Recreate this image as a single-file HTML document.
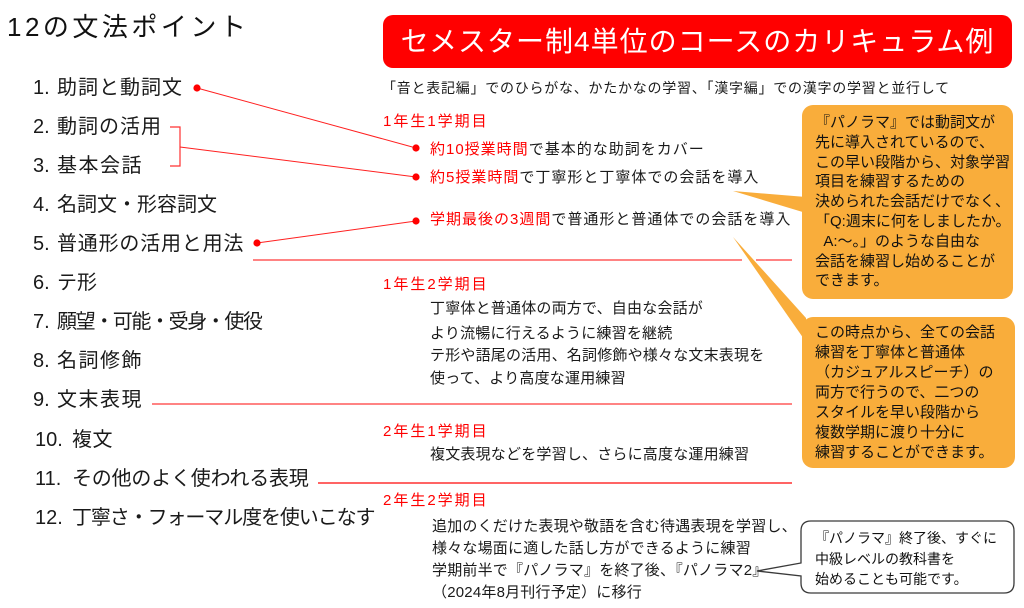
<!DOCTYPE html>
<html lang="ja">
<head>
<meta charset="utf-8">
<style>
  html, body { margin:0; padding:0; }
  body { width:1024px; height:608px; position:relative; overflow:hidden; background:#fff;
         font-family:"Liberation Sans","Noto Sans CJK JP",sans-serif; color:#1a1a1a; }
  .a { position:absolute; white-space:nowrap; }
  .title { left:7px; top:12px; font-size:26px; line-height:30px; letter-spacing:3.5px; color:#111; }
  .redbox { left:383px; top:15px; width:629px; height:53px; background:#ff0000; border-radius:10px;
            color:#fff; font-size:28px; line-height:53px; text-align:center; letter-spacing:1px; }
  .it { left:33px; font-size:20px; line-height:24px; letter-spacing:1px; }
  .it .n { display:inline-block; width:24px; letter-spacing:0; }
  .it.w { left:35px; }
  .it.w .n { width:37px; }
  .t14 { font-size:14px; line-height:18px; letter-spacing:0.75px; }
  .lab { font-size:15px; line-height:18px; letter-spacing:2px; color:#ff0000; }
  .b1 { font-size:15px; line-height:18px; letter-spacing:1px; }
  .b2 { font-size:15px; line-height:18px; letter-spacing:0.2px; }
  .r { color:#ff0000; }
  .call { font-size:15px; line-height:19.8px; color:#111; }
  .call3 { font-size:14px; line-height:20.5px; color:#111; }
</style>
</head>
<body>

<svg width="1024" height="608" style="position:absolute;left:0;top:0">
  <!-- orange callouts -->
  <rect x="802" y="105" width="211" height="194" rx="11" ry="11" fill="#f9ad3b"/>
  <polygon points="733,191 806,197 806,213" fill="#f9ad3b"/>
  <rect x="802" y="317" width="213" height="151" rx="11" ry="11" fill="#f9ad3b"/>
  <polygon points="733,237 806,318 806,342" fill="#f9ad3b"/>

  <!-- separators -->
  <line x1="253" y1="260" x2="742" y2="260" stroke="#ff5a5a" stroke-width="1.4"/>
  <line x1="756" y1="260" x2="792" y2="260" stroke="#ff5a5a" stroke-width="1.4"/>
  <line x1="152" y1="404" x2="792" y2="404" stroke="#ff5a5a" stroke-width="1.4"/>
  <line x1="318" y1="483" x2="792" y2="483" stroke="#ff3030" stroke-width="1.4"/>

  <!-- connectors -->
  <line x1="197" y1="88" x2="416" y2="148" stroke="#ff2020" stroke-width="1"/>
  <path d="M170,127 H180 V166 H170" fill="none" stroke="#ff3030" stroke-width="1.2"/>
  <line x1="180" y1="147" x2="416" y2="177" stroke="#ff2020" stroke-width="1"/>
  <line x1="257" y1="243" x2="416" y2="221" stroke="#ff2020" stroke-width="1"/>
  <circle cx="197" cy="88" r="3.6" fill="#ff0000"/>
  <circle cx="416" cy="148" r="3.6" fill="#ff0000"/>
  <circle cx="416" cy="177" r="3.6" fill="#ff0000"/>
  <circle cx="257" cy="243" r="3.6" fill="#ff0000"/>
  <circle cx="416" cy="221" r="3.6" fill="#ff0000"/>

  <!-- white callout -->
  <path d="M811,521 H1004 Q1014,521 1014,531 V583 Q1014,593 1004,593 H811 Q801,593 801,583 V576 L757,571 L801,563 V531 Q801,521 811,521 Z"
        fill="#fff" stroke="#3a3a3a" stroke-width="1.3"/>
</svg>

<div class="a title">12の文法ポイント</div>
<div class="a redbox">セメスター制4単位のコースのカリキュラム例</div>

<!-- left list -->
<div class="a it" style="top:76px"><span class="n">1.</span>助詞と動詞文</div>
<div class="a it" style="top:115px"><span class="n">2.</span>動詞の活用</div>
<div class="a it" style="top:154px;letter-spacing:1.5px"><span class="n">3.</span>基本会話</div>
<div class="a it" style="top:193px;letter-spacing:0"><span class="n">4.</span>名詞文・形容詞文</div>
<div class="a it" style="top:232px;letter-spacing:0.8px"><span class="n">5.</span>普通形の活用と用法</div>
<div class="a it" style="top:271px;letter-spacing:0"><span class="n">6.</span>テ形</div>
<div class="a it" style="top:310px;letter-spacing:-1.4px"><span class="n">7.</span>願望・可能・受身・使役</div>
<div class="a it" style="top:349px;letter-spacing:1.5px"><span class="n">8.</span>名詞修飾</div>
<div class="a it" style="top:388px;letter-spacing:1.5px"><span class="n">9.</span>文末表現</div>
<div class="a it w" style="top:428px;letter-spacing:0.5px"><span class="n">10.</span>複文</div>
<div class="a it w" style="top:467px;letter-spacing:-0.2px"><span class="n">11.</span>その他のよく使われる表現</div>
<div class="a it w" style="top:506px;letter-spacing:-1.1px"><span class="n">12.</span>丁寧さ・フォーマル度を使いこなす</div>

<!-- right column -->
<div class="a t14" style="left:382px;top:79px">「音と表記編」でのひらがな、かたかなの学習、「漢字編」での漢字の学習と並行して</div>

<div class="a lab" style="left:383px;top:113px">1年生1学期目</div>
<div class="a b1" style="left:430px;top:141px"><span class="r">約10授業時間</span>で基本的な助詞をカバー</div>
<div class="a b1" style="left:430px;top:169px"><span class="r">約5授業時間</span>で丁寧形と丁寧体での会話を導入</div>
<div class="a b1" style="left:430px;top:211px"><span class="r">学期最後の3週間</span>で普通形と普通体での会話を導入</div>

<div class="a lab" style="left:383px;top:276px">1年生2学期目</div>
<div class="a b2" style="left:430px;top:300px">丁寧体と普通体の両方で、自由な会話が</div>
<div class="a b2" style="left:430px;top:325px">より流暢に行えるように練習を継続</div>
<div class="a b2" style="left:430px;top:347px">テ形や語尾の活用、名詞修飾や様々な文末表現を</div>
<div class="a b2" style="left:430px;top:370px">使って、より高度な運用練習</div>

<div class="a lab" style="left:383px;top:423px">2年生1学期目</div>
<div class="a b2" style="left:430px;top:446px">複文表現などを学習し、さらに高度な運用練習</div>

<div class="a lab" style="left:383px;top:492px">2年生2学期目</div>
<div class="a b2" style="left:432px;top:518px">追加のくだけた表現や敬語を含む待遇表現を学習し、</div>
<div class="a b2" style="left:432px;top:540px">様々な場面に適した話し方ができるように練習</div>
<div class="a b2" style="left:432px;top:562px">学期前半で『パノラマ』を終了後、『パノラマ2』</div>
<div class="a b2" style="left:432px;top:584px">（2024年8月刊行予定）に移行</div>

<!-- callout texts -->
<div class="a call" style="left:815px;top:113px">『パノラマ』では動詞文が<br>先に導入されているので、<br>この早い段階から、対象学習<br>項目を練習するための<br>決められた会話だけでなく、<br>「Q:週末に何をしましたか。<br>&nbsp;&nbsp;A:～。」のような自由な<br>会話を練習し始めることが<br>できます。</div>

<div class="a call" style="left:815px;top:323px;line-height:20px">この時点から、全ての会話<br>練習を丁寧体と普通体<br>（カジュアルスピーチ）の<br>両方で行うので、二つの<br>スタイルを早い段階から<br>複数学期に渡り十分に<br>練習することができます。</div>

<div class="a call3" style="left:815px;top:528px">『パノラマ』終了後、すぐに<br>中級レベルの教科書を<br>始めることも可能です。</div>

</body>
</html>
